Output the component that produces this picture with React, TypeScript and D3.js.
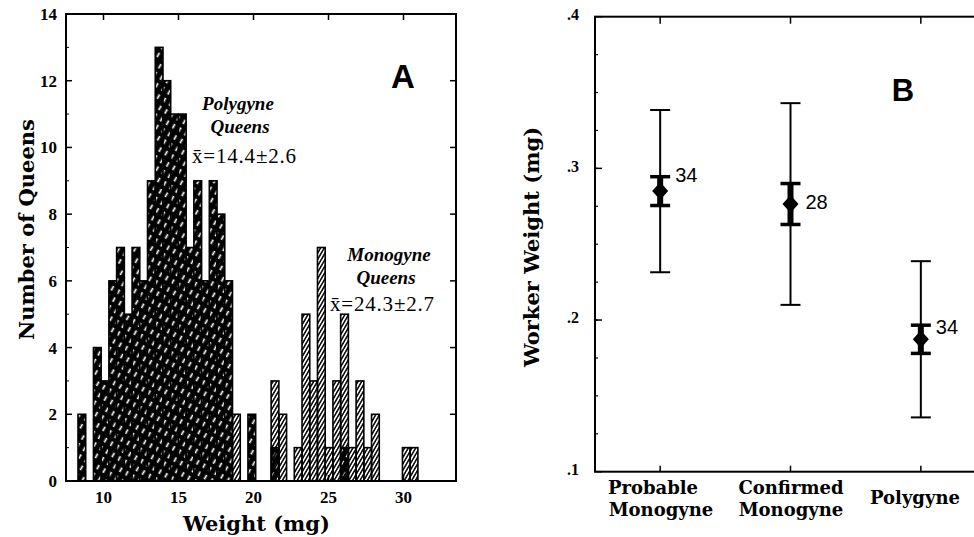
import React from "react";
import * as d3 from "d3";

// ---- Panel A data: queen weight histogram (counts per 0.5 mg-ish bin) ----
const binStart = 8.3;
const binWidth = 0.515;
const polygyneCounts = [
  2, 0, 4, 3, 6, 7, 5, 7, 6, 9, 13, 12, 11, 11, 7, 9, 6, 9, 8, 6, 0, 0, 2, 0, 0,
  1, 0, 0, 0, 0, 0, 0, 0, 0, 1,
];
const monogyneCounts = [
  0, 0, 0, 0, 0, 0, 0, 0, 0, 0, 0, 0, 0, 0, 0, 0, 0, 0, 0, 0, 2, 0, 0, 0, 0,
  3, 2, 0, 1, 5, 3, 7, 1, 3, 5, 1, 3, 1, 2, 0, 0, 0, 1, 1,
];
const weightTicks = [10, 15, 20, 25, 30];
const countTicks = [0, 2, 4, 6, 8, 10, 12, 14];

// ---- Panel B data: worker weight, mean +/- SE and SD ----
const colonyTypes = ["Probable Monogyne", "Confirmed Monogyne", "Polygyne"];
const workerMean = [0.285, 0.2765, 0.1873];
const workerSE = [0.0095, 0.0135, 0.0093];
const workerSD = [0.0535, 0.0665, 0.0515];
const sampleN = [34, 28, 34];
const workerTicks = [0.1, 0.2, 0.3, 0.4];
const workerTickLabels = [".1", ".2", ".3", ".4"];

const nLabelDy = [-9, 5, -5];

const W = 974;
const H = 537;
const serif = "'Liberation Serif', 'Times New Roman', serif";
const wideSerif = "'DejaVu Serif', serif";
const sans = "'Liberation Sans', Arial, sans-serif";

function PanelA() {
  const left = 66, right = 456, top = 14, bottom = 481;
  const x = d3.scaleLinear().domain([7.5, 33.5]).range([left, right]);
  const y = d3.scaleLinear().domain([0, 14]).range([bottom, top]);
  const minorY = d3.range(1, 14, 2);

  const bar = (c: number, i: number, fill: string, key: string) => {
    if (!c) return null;
    const x0 = x(binStart + i * binWidth);
    const x1 = x(binStart + (i + 1) * binWidth);
    return (
      <rect key={key} x={x0} y={y(c)} width={x1 - x0} height={y(0) - y(c)}
        fill={fill} stroke="#000" strokeWidth={1.6} />
    );
  };

  return (
    <g>
      {polygyneCounts.map((c, i) => bar(c, i, "url(#polyHatch)", "p" + i))}
      {monogyneCounts.map((c, i) => bar(c, i, "url(#monoHatch)", "m" + i))}

      <rect x={left} y={top} width={right - left} height={bottom - top}
        fill="none" stroke="#000" strokeWidth={2} />

      {countTicks.map((t) => (
        <g key={"yt" + t}>
          <line x1={left} x2={left + 6} y1={y(t)} y2={y(t)} stroke="#000" strokeWidth={1.5} />
          <line x1={right} x2={right - 6} y1={y(t)} y2={y(t)} stroke="#000" strokeWidth={1.5} />
          <text x={left - 9} y={y(t)} dy="0.35em" textAnchor="end"
            fontFamily={serif} fontWeight="bold" fontSize={17}>{t}</text>
        </g>
      ))}
      {minorY.map((t) => (
        <line key={"ym" + t} x1={left} x2={left + 3} y1={y(t)} y2={y(t)} stroke="#000" strokeWidth={1} />
      ))}
      {weightTicks.map((t) => (
        <g key={"xt" + t}>
          <line x1={x(t)} x2={x(t)} y1={bottom} y2={bottom - 6} stroke="#000" strokeWidth={1.5} />
          <line x1={x(t)} x2={x(t)} y1={top} y2={top + 6} stroke="#000" strokeWidth={1.5} />
          <text x={x(t)} y={bottom + 22} textAnchor="middle"
            fontFamily={serif} fontWeight="bold" fontSize={17}>{t}</text>
        </g>
      ))}

      <text x={x(20) + 3} y={531} textAnchor="middle" fontFamily={wideSerif}
        fontWeight="bold" fontSize={21}>Weight (mg)</text>
      <text transform={`translate(34,${(top + bottom) / 2 - 18}) rotate(-90)`} textAnchor="middle"
        fontFamily={wideSerif} fontWeight="bold" fontSize={21}>Number of Queens</text>

      <text x={403} y={88} textAnchor="middle" fontFamily={sans} fontWeight="bold" fontSize={33}>A</text>

      <g fontFamily={serif} fontWeight="bold" fontStyle="italic" fontSize={19} textAnchor="middle">
        <text x={238} y={110}>Polygyne</text>
        <text x={240} y={133}>Queens</text>
        <text x={389} y={261}>Monogyne</text>
        <text x={386} y={284}>Queens</text>
      </g>
      <g fontFamily={serif} fontSize={21} letterSpacing={0.8}>
        <text x={192} y={163}>x̄=14.4±2.6</text>
        <text x={330} y={311}>x̄=24.3±2.7</text>
      </g>
    </g>
  );
}

function PanelB() {
  const left = 595, right = 986, top = 16.7, bottom = 471.7;
  const x = d3.scalePoint<string>().domain(colonyTypes).range([left, right]).padding(0.5);
  const y = d3.scaleLinear().domain([0.1, 0.4]).range([bottom, top]);
  const minorTicks = d3.range(0.125, 0.4, 0.025);

  return (
    <g>
      <rect x={left} y={top} width={right - left} height={bottom - top}
        fill="none" stroke="#000" strokeWidth={2} />
      {minorTicks.map((t, i) => (
        <line key={"bm" + i} x1={left} x2={left + 3} y1={y(t)} y2={y(t)} stroke="#000" strokeWidth={1.2} />
      ))}
      {workerTicks.map((t, i) => (
        <g key={"bt" + i}>
          <line x1={left} x2={left + 7} y1={y(t)} y2={y(t)} stroke="#000" strokeWidth={1.5} />
          <text x={left - 16} y={y(t)} dy="0.2em" textAnchor="end"
            fontFamily={serif} fontWeight="bold" fontSize={16}>{workerTickLabels[i]}</text>
        </g>
      ))}
      {colonyTypes.map((c) => (
        <g key={"bx" + c}>
          <line x1={x(c)} x2={x(c)} y1={bottom} y2={bottom - 6} stroke="#000" strokeWidth={1.5} />
          <line x1={x(c)} x2={x(c)} y1={top} y2={top + 7} stroke="#000" strokeWidth={1.5} />
        </g>
      ))}

      {colonyTypes.map((c, i) => {
        const cx = x(c) as number;
        const m = workerMean[i];
        const sdHi = y(m + workerSD[i]), sdLo = y(m - workerSD[i]);
        const seHi = y(m + workerSE[i]), seLo = y(m - workerSE[i]);
        const cy = y(m);
        return (
          <g key={"pt" + c}>
            <line x1={cx} x2={cx} y1={sdHi} y2={sdLo} stroke="#000" strokeWidth={2} />
            <line x1={cx - 10} x2={cx + 10} y1={sdHi} y2={sdHi} stroke="#000" strokeWidth={2} />
            <line x1={cx - 10} x2={cx + 10} y1={sdLo} y2={sdLo} stroke="#000" strokeWidth={2} />
            <line x1={cx} x2={cx} y1={seHi} y2={seLo} stroke="#000" strokeWidth={6} />
            <line x1={cx - 10} x2={cx + 10} y1={seHi} y2={seHi} stroke="#000" strokeWidth={3.5} />
            <line x1={cx - 10} x2={cx + 10} y1={seLo} y2={seLo} stroke="#000" strokeWidth={3.5} />
            <path d={`M${cx},${cy - 9} L${cx + 8},${cy} L${cx},${cy + 9} L${cx - 8},${cy} Z`} fill="#000" />
            <text x={cx + 15} y={cy + nLabelDy[i]} fontFamily={sans} fontSize={20}>{sampleN[i]}</text>
          </g>
        );
      })}

      <g fontFamily={wideSerif} fontWeight="bold" fontSize={18} textAnchor="middle">
        <text x={653} y={494}>Probable</text>
        <text x={661} y={516}>Monogyne</text>
        <text x={791} y={494}>Confirmed</text>
        <text x={791} y={516}>Monogyne</text>
        <text x={915} y={504}>Polygyne</text>
      </g>

      <text transform={`translate(539,247) rotate(-90)`} textAnchor="middle"
        fontFamily={wideSerif} fontWeight="bold" fontSize={21}>Worker Weight (mg)</text>
      <text x={903} y={101} textAnchor="middle" fontFamily={sans} fontWeight="bold" fontSize={31}>B</text>
    </g>
  );
}

export default function App() {
  return (
    <svg width={W} height={H} style={{ position: "absolute", left: 0, top: 0, background: "#fff" }}>
      <defs>
        <pattern id="polyHatch" patternUnits="userSpaceOnUse" width={7} height={9}
          patternTransform="rotate(30)">
          <rect width={7} height={9} fill="#000" />
          <line x1={3.5} x2={3.5} y1={2} y2={7} stroke="#fff" strokeWidth={1.7} />
        </pattern>
        <pattern id="monoHatch" patternUnits="userSpaceOnUse" width={3.2} height={10}
          patternTransform="rotate(30)">
          <line x1={1.6} x2={1.6} y1={0} y2={10} stroke="#000" strokeWidth={1.5} />
        </pattern>
      </defs>
      <PanelA />
      <PanelB />
    </svg>
  );
}
